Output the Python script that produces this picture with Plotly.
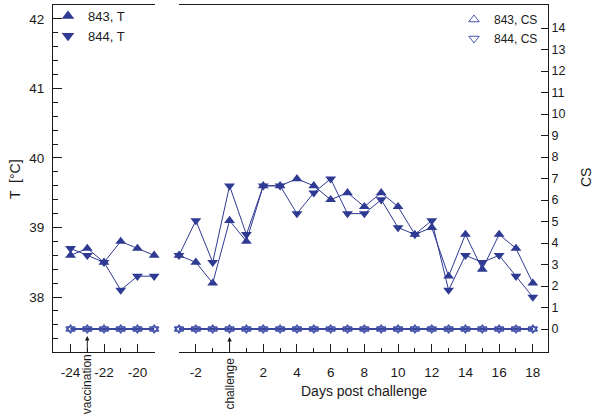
import plotly.graph_objects as go

# ---- data ----
days_vac = [-24, -23, -22, -21, -20, -19]
t843_vac = [38.6, 38.7, 38.5, 38.8, 38.7, 38.6]
t844_vac = [38.7, 38.6, 38.5, 38.1, 38.3, 38.3]
cs843_vac = [0, 0, 0, 0, 0, 0]
cs844_vac = [0, 0, 0, 0, 0, 0]

days_ch = list(range(-3, 19))
t843_ch = [38.6, 38.5, 38.2, 39.1, 38.8, 39.6, 39.6, 39.7, 39.6, 39.4, 39.5,
           39.3, 39.5, 39.3, 38.9, 39.0, 38.3, 38.9, 38.4, 38.9, 38.7, 38.2]
t844_ch = [38.6, 39.1, 38.5, 39.6, 38.9, 39.6, 39.6, 39.2, 39.5, 39.7, 39.2,
           39.2, 39.4, 39.0, 38.9, 39.1, 38.1, 38.6, 38.5, 38.6, 38.3, 38.0]
cs843_ch = [0] * 22
cs844_ch = [0] * 22

left_ticks = [-24, -22, -20]
left_ticktext = ["-24", "-22", "-20"]
right_ticks = [-2, 0, 2, 4, 6, 8, 10, 12, 14, 16, 18]
right_ticktext = ["-2", "", "2", "4", "6", "8", "10", "12", "14", "16", "18"]
t_ticks = [38, 39, 40, 41, 42]
cs_ticks = list(range(0, 15))

BLUE = "#2f3a93"
OPEN = "#4654ad"
INK = "#1a1a1a"
FONT = "Liberation Sans, Arial, sans-serif"
W, H = 593, 416

fig = go.Figure()

def tline(x, y, xa, sym, name):
    fig.add_trace(go.Scatter(
        x=x, y=y, xaxis=xa, yaxis="y", mode="lines+markers",
        line=dict(color=BLUE, width=1),
        marker=dict(symbol=sym, size=9.5, color=BLUE),
        cliponaxis=False, showlegend=False, name=name))

def csline(x, y, xa, sym):
    fig.add_trace(go.Scatter(
        x=x, y=y, xaxis=xa, yaxis="y2", mode="lines+markers",
        line=dict(color=BLUE, width=1.6),
        marker=dict(symbol=sym, size=8, color=OPEN,
                    line=dict(color=OPEN, width=1.3)),
        cliponaxis=False, showlegend=False))

# CS lines
csline(days_vac, cs843_vac, "x", "triangle-up-open")
csline(days_vac, cs844_vac, "x", "triangle-down-open")
csline(days_ch, cs843_ch, "x2", "triangle-up-open")
csline(days_ch, cs844_ch, "x2", "triangle-down-open")
# T lines
tline(days_vac, t843_vac, "x", "triangle-up", "843, T")
tline(days_vac, t844_vac, "x", "triangle-down", "844, T")
tline(days_ch, t843_ch, "x2", "triangle-up", "843, T")
tline(days_ch, t844_ch, "x2", "triangle-down", "844, T")

# legend entries
for sym, name in [("triangle-up", "843, T"), ("triangle-down", "844, T")]:
    fig.add_trace(go.Scatter(x=[None], y=[None], mode="markers", name=name,
                             marker=dict(symbol=sym, size=11, color=BLUE),
                             legend="legend", showlegend=True))
for sym, name in [("triangle-up-open", "843, CS"), ("triangle-down-open", "844, CS")]:
    fig.add_trace(go.Scatter(x=[None], y=[None], mode="markers", name=name,
                             marker=dict(symbol=sym, size=9, color=OPEN,
                                         line=dict(color=OPEN, width=1)),
                             legend="legend2", showlegend=True))

ydom = [1 - 352 / H, 1 - 5 / H]
axcommon = dict(showline=True, linecolor=INK, linewidth=1, showgrid=False,
                zeroline=False, tickcolor=INK)
tf = dict(family=FONT, size=13.5, color=INK)

fig.update_layout(
    width=W, height=H, margin=dict(l=0, r=0, t=0, b=0),
    plot_bgcolor="white", paper_bgcolor="white",
    font=dict(family=FONT, size=13, color=INK),
    xaxis=dict(domain=[53 / W, 155 / W], range=[-25.05, -18.95], anchor="y",
               tickmode="array", tickvals=left_ticks, ticktext=left_ticktext,
               ticks="inside", ticklen=8,
               mirror=True, tickfont=tf, ticklabelstandoff=8,
               minor=dict(tickmode="array", tickvals=days_vac, ticks="inside",
                          ticklen=4, tickcolor=INK),
               **axcommon),
    xaxis2=dict(domain=[179 / W, 548 / W], range=[-3.0, 18.9], anchor="y2",
                tickmode="array", tickvals=right_ticks, ticktext=right_ticktext,
                ticks="inside", ticklen=8, mirror=True, tickfont=tf,
                ticklabelstandoff=8,
                minor=dict(tickmode="array", tickvals=days_ch, ticks="inside",
                           ticklen=4, tickcolor=INK),
                **axcommon),
    yaxis=dict(domain=ydom, range=[37.21, 42.2], anchor="x", side="left",
               tickmode="array", tickvals=t_ticks, ticks="inside", ticklen=9,
               tickfont=tf, ticklabelstandoff=5,
               minor=dict(dtick=0.2, tick0=38, ticks="inside", ticklen=5,
                          tickcolor=INK),
               **axcommon),
    yaxis2=dict(domain=ydom, range=[-1.07, 15.07], anchor="x2", side="right",
                overlaying="y", tickmode="array", tickvals=cs_ticks,
                ticks="inside", ticklen=7,
                tickfont=dict(family=FONT, size=12.5, color=INK),
                **axcommon),
    legend=dict(x=48 / W, y=1 - 1 / H, xanchor="left", yanchor="top",
                bgcolor="rgba(0,0,0,0)", font=dict(family=FONT, size=13, color=INK),
                tracegroupgap=0, itemwidth=30),
    legend2=dict(x=454 / W, y=1 - 5 / H, xanchor="left", yanchor="top",
                 bgcolor="rgba(0,0,0,0)", font=dict(family=FONT, size=12, color=INK),
                 tracegroupgap=0, itemwidth=30),
)

annots = [
    # axis titles
    dict(text="T  [°C]", x=15 / W, y=1 - 179 / H, xref="paper", yref="paper",
         xanchor="center", yanchor="middle",
         textangle=-90, showarrow=False, font=dict(size=14)),
    dict(text="CS", x=586 / W, y=1 - 178 / H, xref="paper", yref="paper",
         xanchor="center", yanchor="middle",
         textangle=-90, showarrow=False, font=dict(size=14)),
    dict(text="Days post challenge", x=364 / W, y=1 - 391 / H, xref="paper",
         yref="paper", xanchor="center", yanchor="middle",
         showarrow=False, font=dict(size=14)),
    # event markers
    dict(text="vaccination", x=-23, xref="x", y=1 - 384 / H, yref="paper",
         xanchor="center", yanchor="middle",
         textangle=-90, showarrow=False, font=dict(size=12)),
    dict(text="challenge", x=0, xref="x2", y=1 - 384 / H, yref="paper",
         xanchor="center", yanchor="middle",
         textangle=-90, showarrow=False, font=dict(size=12)),
    dict(text="", x=-23, xref="x", y=1 - 336 / H, yref="paper", showarrow=True,
         ax=0, ay=17, arrowhead=2, arrowsize=0.9, arrowwidth=1, arrowcolor=INK),
    dict(text="", x=0, xref="x2", y=1 - 337 / H, yref="paper", showarrow=True,
         ax=0, ay=16, arrowhead=2, arrowsize=0.9, arrowwidth=1, arrowcolor=INK),
]
fig.update_layout(annotations=annots)

fig.write_html("out.html", config={"displayModeBar": False},
               post_script="document.body.style.margin='0';"
                           "document.body.style.overflow='hidden';")
